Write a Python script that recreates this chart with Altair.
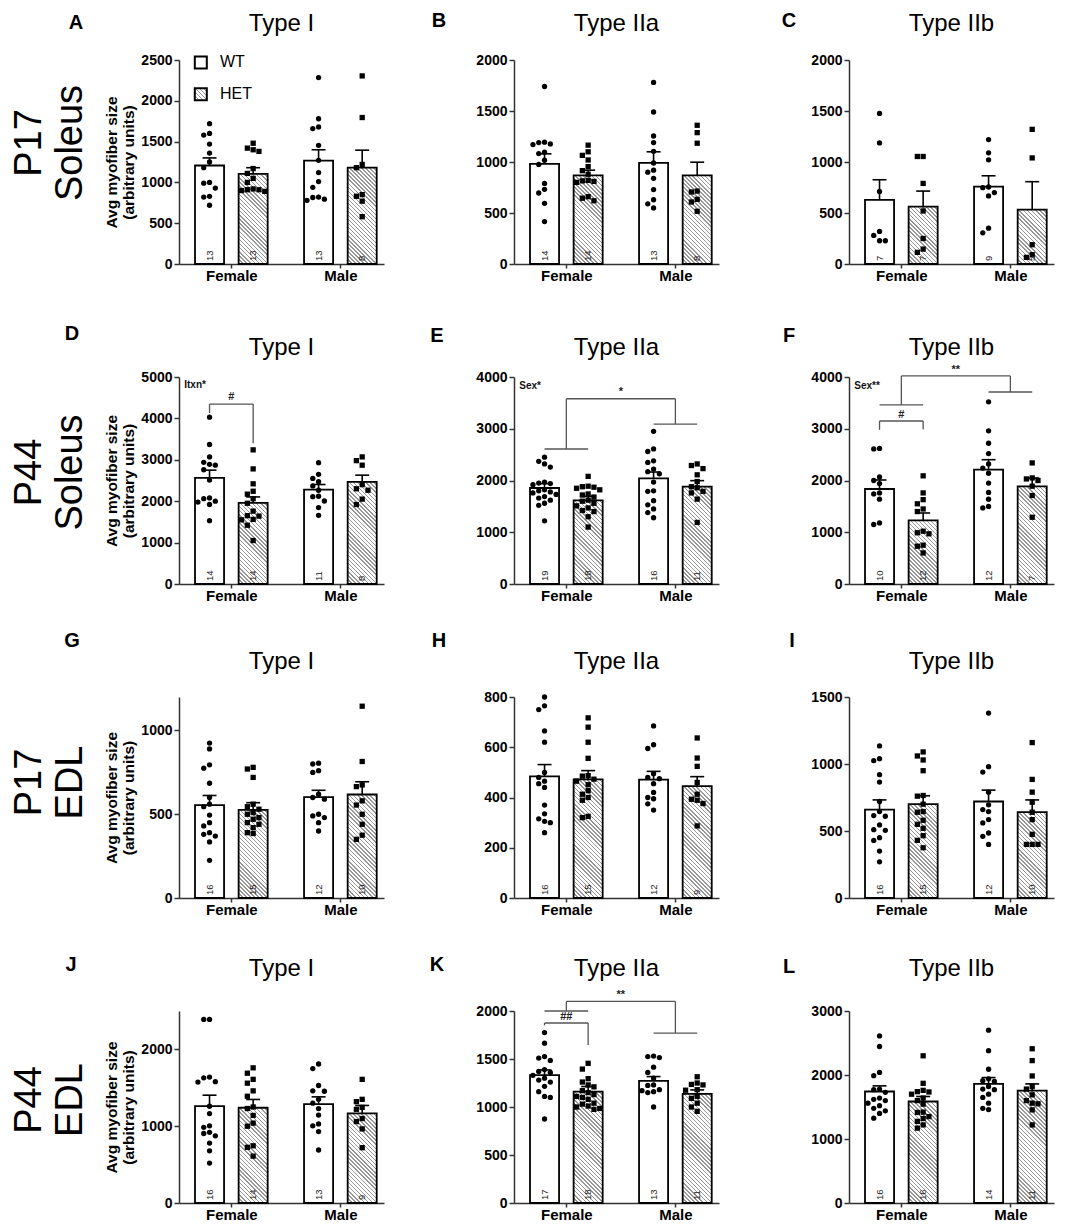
import math
import altair as alt
import pandas as pd

FONT = "Liberation Sans"

# ---------------- data ----------------
# order of groups in every panel: Female WT, Female HET, Male WT, Male HET
A_WT_F = [1720, 1600, 1580, 1470, 1360, 1250, 1180, 1000, 990, 930, 830, 820, 720]
A_HET_F = [1480, 1420, 1400, 1380, 1170, 1110, 1050, 1000, 920, 910, 910, 900, 890]
A_WT_M = [2285, 1780, 1680, 1660, 1455, 1270, 1120, 1010, 940, 820, 815, 795, 780]
A_HET_M = [2305, 1795, 1220, 1180, 850, 830, 770, 580]
A_MEAN = [1207, 1105, 1268, 1180]
A_SEM = [1300, 1180, 1400, 1395]
A_N = [13, 13, 13, 8]

B_WT_F = [1740, 1194, 1190, 1177, 1171, 1096, 1083, 1018, 976, 790, 732, 696, 595, 416]
B_HET_F = [1165, 1100, 1065, 1020, 955, 915, 880, 820, 815, 810, 800, 660, 645, 620]
B_WT_M = [1780, 1490, 1255, 1190, 1105, 990, 920, 900, 840, 730, 630, 590, 550]
B_HET_M = [1360, 1288, 1184, 715, 706, 634, 608, 517]
B_MEAN = [982, 868, 992, 868]
B_SEM = [1080, 920, 1100, 998]
B_N = [14, 14, 13, 8]

C_WT_F = [1476, 1187, 712, 319, 280, 228, 228]
C_HET_F = [1054, 1054, 790, 520, 250, 146, 114]
C_WT_M = [1220, 1090, 1021, 755, 748, 700, 667, 351, 306]
C_HET_M = [1320, 1040, 189, 91, 65]
C_MEAN = [628, 563, 758, 533]
C_SEM = [826, 715, 865, 807]
C_N = [7, 7, 9, 5]

D_WT_F = [4030, 3370, 3070, 2940, 2890, 2870, 2760, 2510, 2080, 2060, 2000, 1980, 1920, 1530]
D_HET_F = [3240, 2780, 2420, 2240, 2170, 2060, 1950, 1760, 1650, 1640, 1560, 1550, 1420, 1050]
D_WT_M = [2930, 2650, 2550, 2470, 2370, 2265, 2120, 2110, 2005, 1845, 1660]
D_HET_M = [3070, 2980, 2870, 2400, 2300, 2265, 2050, 1920]
D_MEAN = [2565, 1958, 2281, 2467]
D_SEM = [2750, 2103, 2403, 2629]
D_N = [14, 14, 11, 8]

E_WT_F = [2450, 2370, 2320, 2260, 1970, 1950, 1940, 1920, 1820, 1800, 1780, 1760,
          1730, 1690, 1660, 1620, 1560, 1520, 1220]
E_HET_F = [2080, 1880, 1890, 1870, 1850, 1820, 1740, 1720, 1680, 1620, 1600, 1560,
           1510, 1470, 1420, 1400, 1300, 1100]
E_WT_M = [2950, 2610, 2560, 2380, 2350, 2220, 2170, 2130, 1970, 1800, 1790, 1610,
          1530, 1450, 1380, 1280]
E_HET_M = [2320, 2290, 2230, 2110, 1980, 1880, 1860, 1790, 1760, 1640, 1190]
E_MEAN = [1855, 1617, 2042, 1881]
E_SEM = [1939, 1694, 2164, 1997]
E_N = [19, 18, 16, 11]

F_WT_F = [2620, 2610, 2070, 2000, 1940, 1760, 1740, 1640, 1180, 1150]
F_HET_F = [2090, 1760, 1630, 1550, 1450, 1400, 1020, 990, 970, 750, 730, 600]
F_WT_M = [3520, 2960, 2720, 2520, 2320, 2240, 2140, 1950, 1770, 1640, 1500, 1470]
F_HET_M = [2340, 2050, 2030, 2000, 1890, 1710, 1290]
F_MEAN = [1836, 1230, 2209, 1887]
F_SEM = [2010, 1372, 2402, 2048]
F_N = [10, 12, 12, 7]

G_WT_F = [925, 890, 795, 775, 685, 600, 560, 545, 495, 450, 430, 390, 380, 370, 335, 225]
G_HET_F = [780, 770, 720, 560, 545, 530, 510, 500, 480, 470, 450, 440, 420, 390, 385]
G_WT_M = [805, 800, 760, 750, 620, 600, 590, 500, 490, 480, 450, 400]
G_HET_M = [1145, 815, 675, 665, 580, 555, 500, 440, 375, 350]
G_MEAN = [555, 526, 602, 618]
G_SEM = [612, 569, 643, 694]
G_N = [16, 15, 12, 10]

H_WT_F = [800, 765, 750, 665, 620, 500, 480, 465, 455, 440, 370, 335, 315, 305, 300, 260]
H_HET_F = [717, 680, 620, 556, 487, 485, 473, 465, 451, 427, 413, 400, 389, 325, 320]
H_WT_M = [685, 610, 595, 495, 480, 475, 455, 420, 400, 395, 375, 350]
H_HET_M = [637, 557, 524, 460, 413, 393, 389, 376, 287]
H_MEAN = [484, 472, 471, 445]
H_SEM = [531, 507, 504, 483]
H_N = [16, 15, 12, 9]

I_WT_F = [1135, 1040, 1025, 920, 865, 720, 645, 615, 610, 545, 510, 505, 450, 430, 350, 270]
I_HET_F = [1090, 1060, 1030, 950, 765, 760, 700, 645, 640, 580, 550, 520, 465, 430, 375]
I_WT_M = [1380, 980, 940, 790, 695, 660, 645, 585, 560, 485, 460, 400]
I_HET_M = [1160, 885, 790, 715, 640, 585, 475, 400, 400, 400]
I_MEAN = [659, 700, 720, 641]
I_SEM = [732, 763, 805, 732]
I_N = [16, 15, 12, 10]

J_WT_F = [2390, 2390, 1640, 1630, 1580, 1575, 1260, 1165, 1005, 985, 920, 905, 875, 780, 680, 520]
J_HET_F = [1760, 1690, 1610, 1560, 1460, 1390, 1250, 1230, 1140, 1040, 1000, 745, 725, 610]
J_WT_M = [1810, 1750, 1530, 1460, 1455, 1350, 1300, 1230, 1145, 1030, 1005, 930, 690]
J_HET_M = [1610, 1350, 1320, 1245, 1220, 1100, 1060, 965, 720]
J_MEAN = [1261, 1240, 1287, 1166]
J_SEM = [1404, 1348, 1382, 1270]
J_N = [16, 14, 13, 9]

K_WT_F = [1775, 1665, 1525, 1510, 1485, 1390, 1370, 1360, 1330, 1300, 1280, 1260,
          1215, 1160, 1110, 1100, 875]
K_HET_F = [1455, 1395, 1295, 1260, 1230, 1210, 1170, 1150, 1130, 1110, 1100, 1080,
           1040, 1030, 1010, 1000, 985, 975]
K_WT_M = [1530, 1525, 1515, 1415, 1360, 1300, 1230, 1225, 1180, 1170, 1160, 1150, 1000]
K_HET_M = [1315, 1250, 1235, 1230, 1180, 1175, 1110, 1090, 1040, 1000, 955]
K_MEAN = [1331, 1161, 1272, 1137]
K_SEM = [1386, 1213, 1317, 1178]
K_N = [17, 18, 13, 11]

L_WT_F = [2610, 2445, 2040, 1990, 1780, 1770, 1730, 1640, 1620, 1600, 1560, 1520,
          1480, 1440, 1400, 1325]
L_HET_F = [2300, 1870, 1760, 1740, 1735, 1700, 1640, 1600, 1545, 1420, 1415, 1350,
           1320, 1275, 1220, 1170]
L_WT_M = [2700, 2380, 2090, 1940, 1910, 1900, 1820, 1780, 1770, 1700, 1650, 1560, 1480, 1460]
L_HET_M = [2410, 2225, 1985, 1820, 1780, 1690, 1600, 1560, 1550, 1455, 1220]
L_MEAN = [1742, 1586, 1861, 1757]
L_SEM = [1830, 1664, 1960, 1861]
L_N = [16, 16, 14, 11]

SEXES = ["Female", "Female", "Male", "Male"]
GENOS = ["WT", "HET", "WT", "HET"]
TITLES = ["Type I", "Type IIa", "Type IIb"]
ROW_LABELS = [("P17", "Soleus"), ("P44", "Soleus"), ("P17", "EDL"), ("P44", "EDL")]
Y_MAX = {"A": 2500, "B": 2000, "C": 2000, "D": 5000, "E": 4000, "F": 4000,
         "G": 1200, "H": 800, "I": 1500, "J": 2500, "K": 2000, "L": 3000}
Y_TICKS = {"A": [0, 500, 1000, 1500, 2000, 2500], "B": [0, 500, 1000, 1500, 2000],
           "C": [0, 500, 1000, 1500, 2000], "D": [0, 1000, 2000, 3000, 4000, 5000],
           "E": [0, 1000, 2000, 3000, 4000], "F": [0, 1000, 2000, 3000, 4000],
           "G": [0, 500, 1000], "H": [0, 200, 400, 600, 800], "I": [0, 500, 1000, 1500],
           "J": [0, 1000, 2000], "K": [0, 500, 1000, 1500, 2000], "L": [0, 1000, 2000, 3000]}
# statistics annotations (heights in data units)
CORNER_TEXT = {"D": ("Itxn*", 4800), "E": ("Sex*", 3830), "F": ("Sex**", 3830)}
PAIR_BRACKET = {"D": (4345, 4130, 3400, "#", 4520), "F": (3150, 2980, 2990, "#", 3270),
                "K": (1875, 1850, 1645, "##", 1940)}
GROUP_BRACKET = {"E": (2609, 3090, 3580, "*", 3710), "F": (3460, 3710, 4020, "**", 4130),
                 "K": (2000, 1770, 2100, "**", 2165)}

# ---------------- layout / style ----------------
W = 205
ROW_H = [204, 207, 201, 192]
COL_SPACING = 130
ROW_SPACING = 113
XMIN, XMAX = 0.3, 5.0
POS = [1.0, 2.0, 3.5, 4.5]
BAR_HALF = 0.333
CAP_HALF = 0.16
PXU = W / (XMAX - XMIN)
LETTER_OFF = {"A": (-103, -37), "B": (-75, -39), "C": (-60, -39), "D": (-107, -43),
              "E": (-77, -41), "F": (-60, -41), "G": (-107, -56), "H": (-75, -56),
              "I": (-57, -56), "J": (-108, -46), "K": (-77, -46), "L": (-60, -44)}
TITLE_DY = [-36, -29, -35, -42]
ROWLAB_DY = [-19, -8, -15, -7]
ROWLAB_X = (-138, -97)
HATCH_DARK = "#989898"


def hatch(wpx, hpx, period=2.9, frac=0.36):
    r = max(hpx, 1.0) / wpx
    vx = (1 + r) / (1 + r * r)
    diag = (wpx + hpx) / math.sqrt(2)
    n = max(1, int(round(diag / period)))
    stops = []
    for k in range(n):
        a, b, c = k / n, (k + frac) / n, (k + 1) / n
        stops += [{"offset": a, "color": HATCH_DARK}, {"offset": b, "color": HATCH_DARK},
                  {"offset": b, "color": "#ffffff"}, {"offset": c, "color": "#ffffff"}]
    return {"gradient": "linear", "x1": 0, "y1": 1, "x2": vx, "y2": 1 - r * vx, "stops": stops}


def swarm(vals, ypx, d=5.8, maxoff=0.27):
    step = d / PXU
    cands = [0.0]
    k = 1
    while k * step <= maxoff + 1e-9:
        cands += [-k * step, k * step]
        k += 1
    order = sorted(range(len(vals)), key=lambda i: -vals[i])
    placed, res = [], [0.0] * len(vals)
    for i in order:
        y = vals[i] * ypx
        best, bestc, bestd = None, 0.0, -1.0
        for c in cands:
            x = c * PXU
            md = min([math.hypot(x - px, y - py) for px, py in placed], default=1e9)
            if md >= d:
                best = c
                break
            if md > bestd:
                bestd, bestc = md, c
        if best is None:
            best = bestc
        placed.append((best * PXU, y))
        res[i] = best
    return res


def txt(t, x, y, **kw):
    return alt.Chart(pd.DataFrame({"t": [t]})).mark_text(font=FONT, **kw).encode(
        x=alt.value(x), y=alt.value(y), text="t:N")


def panel(key, row, col):
    g = globals()
    series = [g[f"{key}_WT_F"], g[f"{key}_HET_F"], g[f"{key}_WT_M"], g[f"{key}_HET_M"]]
    means, sems, ns = g[f"{key}_MEAN"], g[f"{key}_SEM"], g[f"{key}_N"]
    H = ROW_H[row]
    ymax = Y_MAX[key]
    ypx = H / ymax

    xscale = alt.Scale(domain=[XMIN, XMAX], nice=False, zero=False)
    yscale = alt.Scale(domain=[0, ymax], nice=False)
    xaxis = alt.Axis(values=[1.5, 4.0], labelExpr="datum.value < 3 ? 'Female' : 'Male'",
                     title=None, grid=False)
    if col == 0:
        yaxis = alt.Axis(values=Y_TICKS[key], format="d", grid=False,
                         title=["Avg myofiber size", "(arbitrary units)"],
                         titleFontSize=15.5, titleFontWeight="bold", titleColor="black",
                         titlePadding=4, titleFont=FONT)
    else:
        yaxis = alt.Axis(values=Y_TICKS[key], format="d", grid=False, title=None)

    def X(f):
        return alt.X(f, type="quantitative", scale=xscale, axis=xaxis)

    def Y(f):
        return alt.Y(f, type="quantitative", scale=yscale, axis=yaxis)

    pts = []
    for i, vals in enumerate(series):
        offs = swarm(vals, ypx)
        for v, o in zip(vals, offs):
            pts.append({"geno": GENOS[i], "sex": SEXES[i], "val": v, "px": POS[i] + o})
    pts = pd.DataFrame(pts)

    bars = pd.DataFrame({
        "sex": SEXES, "geno": GENOS, "pos": POS, "mean": means, "sem": sems,
        "n": [str(v) for v in ns],
        "xl": [p - BAR_HALF for p in POS], "xr": [p + BAR_HALF for p in POS],
        "cl": [p - CAP_HALF for p in POS], "cr": [p + CAP_HALF for p in POS],
        "zero": [0] * 4})

    layers = []
    layers.append(alt.Chart(bars[bars.geno == "WT"]).mark_bar(
        fill="white", stroke="black", strokeWidth=1.8).encode(
        x=X("xl"), x2="xr", y=Y("mean"), y2="zero"))
    bw = 2 * BAR_HALF * PXU
    for i in (1, 3):
        layers.append(alt.Chart(bars.iloc[[i]]).mark_bar(
            fill=hatch(bw, means[i] * ypx), stroke="black", strokeWidth=1.8).encode(
            x=X("xl"), x2="xr", y=Y("mean"), y2="zero"))
    layers.append(alt.Chart(bars).mark_rule(color="black", strokeWidth=1.6).encode(
        x=X("pos"), y=Y("mean"), y2="sem"))
    layers.append(alt.Chart(bars).mark_rule(color="black", strokeWidth=1.6).encode(
        x=X("cl"), x2="cr", y=Y("sem")))
    layers.append(alt.Chart(pts).mark_point(filled=True, opacity=1, color="black", size=28).encode(
        x=X("px"), y=Y("val"),
        shape=alt.Shape("geno:N", scale=alt.Scale(domain=["WT", "HET"], range=["circle", "square"]),
                        legend=None)))
    layers.append(alt.Chart(bars).mark_text(angle=270, align="left", baseline="middle", dx=3,
                                            fontSize=9.5, font=FONT, color="#222").encode(
        x=X("pos"), y=Y("zero"), text="n:N"))

    # statistics annotations
    segs, labels = [], []
    if key in PAIR_BRACKET:
        yh, yl, yr, lab, ly = PAIR_BRACKET[key]
        segs += [(POS[0], POS[1], yh, yh), (POS[0], POS[0], yh, yl), (POS[1], POS[1], yh, yr)]
        labels.append((1.5, ly, lab))
    if key in GROUP_BRACKET:
        fy, my, top, lab, ly = GROUP_BRACKET[key]
        segs += [(POS[0], POS[1], fy, fy), (POS[2], POS[3], my, my),
                 (1.5, 1.5, fy, top), (4.0, 4.0, my, top), (1.5, 4.0, top, top)]
        labels.append((2.75, ly, lab))
    if segs:
        sdf = pd.DataFrame(segs, columns=["x1", "x2", "y1", "y2"])
        layers.append(alt.Chart(sdf).mark_rule(color="#555", strokeWidth=1.3).encode(
            x=X("x1"), x2="x2", y=Y("y1"), y2="y2"))
        ldf = pd.DataFrame(labels, columns=["x", "y", "t"])
        layers.append(alt.Chart(ldf).mark_text(font=FONT, fontSize=11, fontWeight="bold",
                                               color="#222", baseline="middle").encode(
            x=X("x"), y=Y("y"), text="t:N"))
    if key in CORNER_TEXT:
        t, yv = CORNER_TEXT[key]
        cdf = pd.DataFrame({"x": [0.42], "y": [yv], "t": [t]})
        layers.append(alt.Chart(cdf).mark_text(font=FONT, fontSize=10, fontWeight="bold",
                                               color="#111", align="left", baseline="middle").encode(
            x=X("x"), y=Y("y"), text="t:N"))

    # legend (panel A only)
    if key == "A":
        leg = pd.DataFrame({"x": [0.80, 0.80], "tx": [1.24, 1.24], "y": [2470, 2080],
                            "t": ["WT", "HET"]})
        layers.append(alt.Chart(leg.iloc[[0]]).mark_square(
            size=144, fill="white", stroke="black", strokeWidth=2, opacity=1).encode(
            x=X("x"), y=Y("y")))
        layers.append(alt.Chart(leg.iloc[[1]]).mark_square(
            size=144, fill=hatch(12, 12), stroke="black", strokeWidth=2, opacity=1).encode(
            x=X("x"), y=Y("y")))
        layers.append(alt.Chart(leg).mark_text(font=FONT, fontSize=16, align="left",
                                               baseline="middle", color="black").encode(
            x=X("tx"), y=Y("y"), text="t:N"))

    # panel letter, title, row label
    lx, ly = LETTER_OFF[key]
    layers.append(txt(key, lx, ly, fontSize=20, fontWeight="bold", align="center",
                      baseline="middle", color="black"))
    layers.append(txt(TITLES[col], W / 2, TITLE_DY[row], fontSize=24, align="center",
                      baseline="middle", color="black"))
    if col == 0:
        a, b = ROW_LABELS[row]
        cy = H / 2 + ROWLAB_DY[row]
        layers.append(txt(a, ROWLAB_X[0], cy, fontSize=38, angle=270, align="center",
                          baseline="alphabetic", color="black"))
        layers.append(txt(b, ROWLAB_X[1], cy, fontSize=38, angle=270, align="center",
                          baseline="alphabetic", color="black"))

    return alt.layer(*layers).properties(width=W, height=H)


KEYS = [["A", "B", "C"], ["D", "E", "F"], ["G", "H", "I"], ["J", "K", "L"]]
panels = []
for r, ks in enumerate(KEYS):
    for c, k in enumerate(ks):
        panels.append(panel(k, r, c))

chart = alt.concat(*panels, columns=3, spacing={"row": ROW_SPACING, "column": COL_SPACING},
                   bounds="flush").properties(
    padding={"left": 3, "top": 3, "right": 5, "bottom": 5}
).configure_view(stroke=None).configure_axis(
    labelFont=FONT, labelFontSize=14, labelFontWeight="bold", labelColor="black",
    domainColor="#333", domainWidth=1.5, tickColor="#333", tickWidth=1.5, tickSize=5,
    labelPadding=2, grid=False
).configure_axisX(labelFontSize=15, labelPadding=0, tickSize=4)

chart.save("out.html", embed_options={"renderer": "svg", "actions": False})
